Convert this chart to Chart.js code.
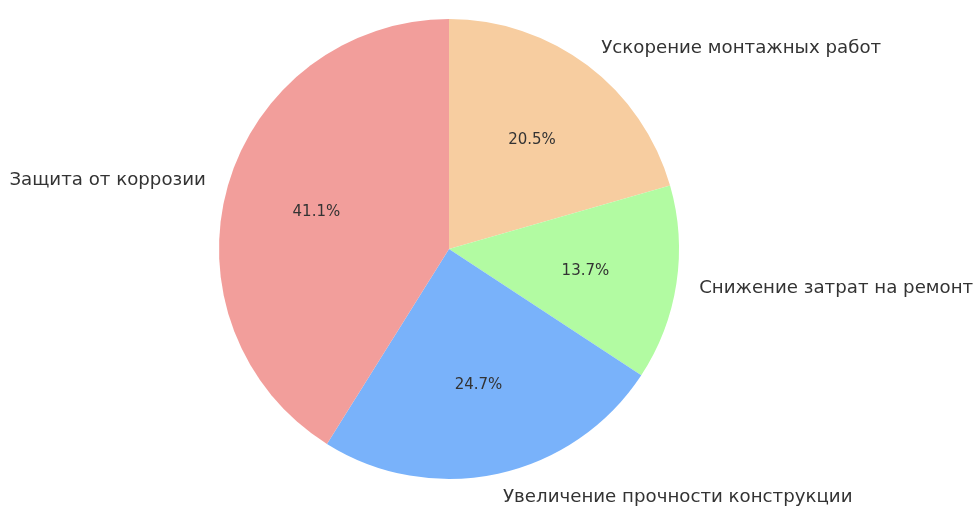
<!DOCTYPE html>
<html>
<head>
<meta charset="utf-8">
<script src="https://cdn.jsdelivr.net/npm/chart.js@4"></script>
<style>
  html, body { margin: 0; padding: 0; background: #fff; }
  #wrap { width: 978px; height: 513px; }
</style>
</head>
<body>
<div id="wrap"><canvas id="pieCanvas" width="978" height="513"></canvas></div>
<script>
// --- Data ---
const labels = ['Ускорение монтажных работ', 'Снижение затрат на ремонт', 'Увеличение прочности конструкции', 'Защита от коррозии'];
const values = [15, 10, 18, 30];
const colors = ['#f7cda0', '#b2fba2', '#79b2fa', '#f29e9b'];

// Draw outer labels and percentages like matplotlib autopct
const pieText = {
    id: 'pieText',
    afterDatasetsDraw(chart) {
        const ctx = chart.ctx;
        const meta = chart.getDatasetMeta(0);
        const total = values.reduce((a, b) => a + b, 0);
        ctx.save();
        ctx.fillStyle = '#333333';
        ctx.textBaseline = 'middle';
        meta.data.forEach((arc, i) => {
            const mid = (arc.startAngle + arc.endAngle) / 2;
            const r = arc.outerRadius;
            const cx = arc.x, cy = arc.y;

            // category label at 1.1 r
            const lx = cx + Math.cos(mid) * r * 1.1;
            const ly = cy + Math.sin(mid) * r * 1.1 + 1;
            ctx.font = '18.2px "DejaVu Sans"';
            ctx.textAlign = Math.cos(mid) >= 0 ? 'left' : 'right';
            ctx.fillText(labels[i], lx, ly);

            // percentage at 0.6 r
            const px = cx + Math.cos(mid) * r * 0.6;
            const py = cy + Math.sin(mid) * r * 0.6 + 1;
            ctx.font = '15px "DejaVu Sans"';
            ctx.textAlign = 'center';
            ctx.fillText((values[i] / total * 100).toFixed(1) + '%', px, py);
        });
        ctx.restore();
    }
};

new Chart(document.getElementById('pieCanvas'), {
    type: 'pie',
    data: {
        labels,
        datasets: [{
            data: values,
            backgroundColor: colors,
            borderWidth: 0
        }]
    },
    options: {
        responsive: false,
        animation: false,
        layout: { padding: { left: 219, right: 299, top: 19, bottom: 34 } },
        plugins: {
            legend: { display: false },
            tooltip: { enabled: false }
        }
    },
    plugins: [pieText]
});
</script>
</body>
</html>
